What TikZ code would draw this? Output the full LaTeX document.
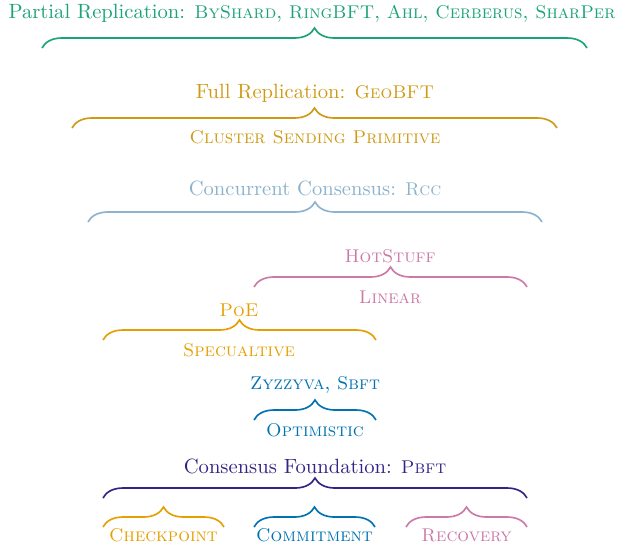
\documentclass[tikz,border=0pt]{standalone}
\usepackage{tikz}
\usetikzlibrary{decorations.pathreplacing}
\usetikzlibrary{positioning}

\definecolor{partialc}{RGB}{25,163,122}
\definecolor{fullc}{RGB}{206,154,22}
\definecolor{rccc}{RGB}{140,178,205}
\definecolor{linearc}{RGB}{204,121,167}
\definecolor{specc}{RGB}{230,159,0}
\definecolor{optc}{RGB}{0,114,178}
\definecolor{basec}{RGB}{51,36,132}

% protocol names in slightly smaller small caps
\newcommand{\sysname}[1]{{\fontsize{8.95pt}{11pt}\selectfont\textsc{#1}}}

\tikzset{
    grp/.style = {decorate, decoration = {brace, amplitude = 9.7pt}, thick},
    lbl/.style = {anchor = base, inner sep = 0pt}
}

\begin{document}
\begin{tikzpicture}[x = 0.485pt, y = -0.485pt]
    \useasboundingbox (0,0) rectangle (622,545);

    % top layer
    \coordinate (partialL) at (42,48);
    \coordinate (partialR) at (587,48);
    \draw[grp, partialc] (partialL) -- (partialR);
    \node[lbl, partialc] (partial) at (312,18) {Partial Replication: \sysname{ByShard}, \sysname{RingBFT}, \sysname{Ahl}, \sysname{Cerberus}, \sysname{SharPer}};

    \coordinate (fullL) at (72,128);
    \coordinate (fullR) at (557,128);
    \draw[grp, fullc] (fullL) -- (fullR);
    \node[lbl, fullc] (full) at (315,98) {Full Replication: \sysname{GeoBFT}};
    \node[lbl, fullc] (cluster) at (315,143) {\sysname{Cluster Sending Primitive}};

    \coordinate (rccL) at (88,222);
    \coordinate (rccR) at (542,222);
    \draw[grp, rccc] (rccL) -- (rccR);
    \node[lbl, rccc] (rcc) at (315,195) {Concurrent Consensus: \sysname{Rcc}};

    % linear and speculative
    \coordinate (linL) at (254,287);
    \coordinate (linR) at (527,287);
    \draw[grp, linearc] (linL) -- (linR);
    \node[lbl, linearc] (hotstuff) at (390,262) {\sysname{HotStuff}};
    \node[lbl, linearc] (linear) at (390,303) {\sysname{Linear}};

    \coordinate (specL) at (103,340);
    \coordinate (specR) at (376,340);
    \draw[grp, specc] (specL) -- (specR);
    \node[lbl, specc] (poe) at (239,316) {\sysname{PoE}};
    \node[lbl, specc] (spec) at (239,356) {\sysname{Specualtive}};

    \coordinate (optL) at (254,420);
    \coordinate (optR) at (376,420);
    \draw[grp, optc] (optL) -- (optR);
    \node[lbl, optc] (zyz) at (315,389) {\sysname{Zyzzyva}, \sysname{Sbft}};
    \node[lbl, optc] (opt) at (315,436) {\sysname{Optimistic}};

    % foundation
    \coordinate (baseL) at (103,498);
    \coordinate (baseR) at (527,498);
    \draw[grp, basec] (baseL) -- (baseR);
    \node[lbl, basec] (pbft) at (315,473) {Consensus Foundation: \sysname{Pbft}};

    \foreach \x/\name/\col/\txt in {103/check/specc/Checkpoint, 254/commit/optc/Commitment, 406/recov/linearc/Recovery} {
        \coordinate (\name L) at (\x,527);
        \coordinate (\name R) at (\x+121,527);
        \draw[grp, \col] (\name L) -- (\name R);
        \node[lbl, \col] (\name) at (\x+60.5,541) {\sysname{\txt}};
    }
\end{tikzpicture}
\end{document}
